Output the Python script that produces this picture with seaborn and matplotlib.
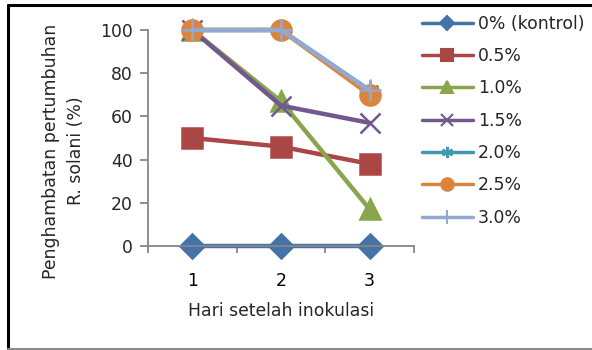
import matplotlib
matplotlib.use("Agg")
import matplotlib.pyplot as plt
import seaborn as sns
import pandas as pd
from matplotlib.lines import Line2D
from matplotlib.ticker import FixedLocator

sns.set_theme(style="white")
plt.rcParams["font.family"] = ["DejaVu Sans"]

days = [1, 2, 3]
series = ["0% (kontrol)", "0.5%", "1.0%", "1.5%", "2.0%", "2.5%", "3.0%"]
v_00 = [0, 0, 0]
v_05 = [50, 46, 38]
v_10 = [100, 67, 17]
v_15 = [100, 65, 57]
v_20 = [100, 100, 72]
v_25 = [100, 100, 70]
v_30 = [100, 100, 72]
values = [v_00, v_05, v_10, v_15, v_20, v_25, v_30]

colors = ["#4572A7", "#AA4643", "#89A54E", "#71588F", "#4198AF", "#DB843D", "#93A9CF"]
markers = ["D", "s", "^", "x", (6, 2, 0), "o", "+"]
msizes = [12, 14, 15, 14, 13, 14.5, 16]

df = pd.DataFrame({
    "hari": days * len(series),
    "nilai": [v for vals in values for v in vals],
    "konsentrasi": [s for s in series for _ in days],
})

FS = 12.4
fig = plt.figure(figsize=(5.92, 3.5), dpi=100)
ax = fig.add_axes([148 / 592, 1 - 246 / 350, (414 - 148) / 592, (246 - 30) / 350])

for name, c, m, ms in zip(series, colors, markers, msizes):
    sub = df[df["konsentrasi"] == name]
    sns.lineplot(data=sub, x="hari", y="nilai", ax=ax, color=c, linewidth=3.2,
                 marker=m, markersize=ms, markeredgecolor=c, markeredgewidth=1.8,
                 legend=False)
for ln in ax.lines:
    ln.set_clip_on(False)

ax.set_xlim(0.5, 3.5)
ax.set_ylim(0, 100)
ax.set_xticks(days)
ax.set_xticklabels([str(d) for d in days])
ax.xaxis.set_minor_locator(FixedLocator([0.5, 1.5, 2.5, 3.5]))
ax.tick_params(axis="x", which="major", length=0, pad=19, labelsize=FS, colors="#000000")
ax.tick_params(axis="x", which="minor", length=5, width=1.3, color="#868686", bottom=True)
ax.set_yticks([0, 20, 40, 60, 80, 100])
ax.tick_params(axis="y", length=6, width=1.3, color="#868686", left=True, labelsize=FS, pad=5)
for sp in ["top", "right"]:
    ax.spines[sp].set_visible(False)
for sp in ["left", "bottom"]:
    ax.spines[sp].set_color("#868686")
    ax.spines[sp].set_linewidth(1.3)
ax.set_xlabel("Hari setelah inokulasi", fontsize=FS, labelpad=8)
ax.set_ylabel("Penghambatan pertumbuhan\nR. solani (%)", fontsize=FS,
              linespacing=1.5)
ax.yaxis.set_label_coords((85 - 148) / 266, (246 - 151) / 216)
ax.patch.set_alpha(0)

handles = [Line2D([0], [0], color=c, lw=2.5, marker=m, markersize=ms * 0.62,
                  markeredgecolor=c, markeredgewidth=1.5)
           for c, m, ms in zip(colors, markers, msizes)]
fig.legend(handles, series, loc="upper left", bbox_to_anchor=(415 / 592, 1 - 8 / 350),
           frameon=False, fontsize=FS, handlelength=2.95, handletextpad=0.3,
           labelspacing=0.83, borderaxespad=0)

# chart frame
fig.add_artist(Line2D([8 / 592, 1], [1 - 4.5 / 350, 1 - 4.5 / 350], color="black", lw=2.2,
                      transform=fig.transFigure))
fig.add_artist(Line2D([8 / 592, 8 / 592], [1 - 4.5 / 350, 1.5 / 350], color="black", lw=2.2,
                      transform=fig.transFigure))
fig.add_artist(Line2D([8 / 592, 1], [1 / 350, 1 / 350], color="#8c8c8c", lw=1.5,
                      transform=fig.transFigure))

fig.savefig("out.png", dpi=100)
